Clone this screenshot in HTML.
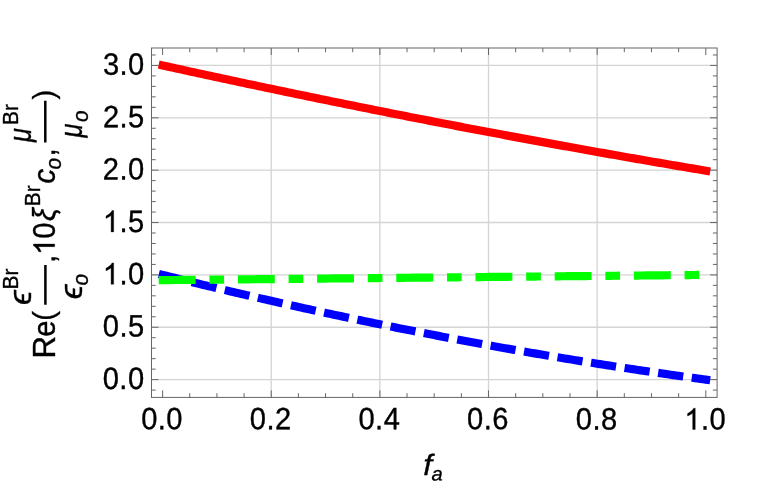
<!DOCTYPE html>
<html><head><meta charset="utf-8"><title>plot</title>
<style>html,body{margin:0;padding:0;background:#fff;}body{width:763px;height:483px;overflow:hidden;font-family:"Liberation Sans",sans-serif;}</style></head>
<body>
<svg width="763" height="483" viewBox="0 0 763 483" style="display:block;will-change:transform">
<rect width="763" height="483" fill="#fff"/>
<path d="M271.24 48.0 V397.4 M379.88 48.0 V397.4 M488.52 48.0 V397.4 M597.16 48.0 V397.4 M151.5 379.60 H717.1 M151.5 327.24 H717.1 M151.5 274.88 H717.1 M151.5 222.52 H717.1 M151.5 170.16 H717.1 M151.5 117.80 H717.1 M151.5 65.44 H717.1" stroke="#d4d4d4" stroke-width="1.3" fill="none"/>
<path d="M158.69 64.58 L162.60 65.44 L165.32 66.04 L168.03 66.63 L170.75 67.23 L173.46 67.83 L176.18 68.42 L178.90 69.02 L181.61 69.61 L184.33 70.20 L187.04 70.79 L189.76 71.39 L192.48 71.98 L195.19 72.57 L197.91 73.16 L200.62 73.74 L203.34 74.33 L206.06 74.92 L208.77 75.51 L211.49 76.09 L214.20 76.68 L216.92 77.26 L219.64 77.84 L222.35 78.43 L225.07 79.01 L227.78 79.59 L230.50 80.17 L233.22 80.75 L235.93 81.33 L238.65 81.91 L241.36 82.49 L244.08 83.06 L246.80 83.64 L249.51 84.21 L252.23 84.79 L254.94 85.36 L257.66 85.94 L260.38 86.51 L263.09 87.08 L265.81 87.65 L268.52 88.22 L271.24 88.79 L273.96 89.36 L276.67 89.93 L279.39 90.50 L282.10 91.06 L284.82 91.63 L287.54 92.20 L290.25 92.76 L292.97 93.32 L295.68 93.89 L298.40 94.45 L301.12 95.01 L303.83 95.57 L306.55 96.13 L309.26 96.69 L311.98 97.25 L314.70 97.81 L317.41 98.37 L320.13 98.93 L322.84 99.48 L325.56 100.04 L328.28 100.59 L330.99 101.15 L333.71 101.70 L336.42 102.25 L339.14 102.80 L341.86 103.35 L344.57 103.90 L347.29 104.45 L350.00 105.00 L352.72 105.55 L355.44 106.10 L358.15 106.65 L360.87 107.19 L363.58 107.74 L366.30 108.28 L369.02 108.82 L371.73 109.37 L374.45 109.91 L377.16 110.45 L379.88 110.99 L382.60 111.53 L385.31 112.07 L388.03 112.61 L390.74 113.15 L393.46 113.69 L396.18 114.22 L398.89 114.76 L401.61 115.30 L404.32 115.83 L407.04 116.36 L409.76 116.90 L412.47 117.43 L415.19 117.96 L417.90 118.49 L420.62 119.02 L423.34 119.55 L426.05 120.08 L428.77 120.61 L431.48 121.13 L434.20 121.66 L436.92 122.19 L439.63 122.71 L442.35 123.24 L445.06 123.76 L447.78 124.28 L450.50 124.81 L453.21 125.33 L455.93 125.85 L458.64 126.37 L461.36 126.89 L464.08 127.41 L466.79 127.92 L469.51 128.44 L472.22 128.96 L474.94 129.47 L477.66 129.99 L480.37 130.50 L483.09 131.02 L485.80 131.53 L488.52 132.04 L491.24 132.55 L493.95 133.06 L496.67 133.57 L499.38 134.08 L502.10 134.59 L504.82 135.10 L507.53 135.61 L510.25 136.11 L512.96 136.62 L515.68 137.12 L518.40 137.63 L521.11 138.13 L523.83 138.63 L526.54 139.14 L529.26 139.64 L531.98 140.14 L534.69 140.64 L537.41 141.14 L540.12 141.64 L542.84 142.13 L545.56 142.63 L548.27 143.13 L550.99 143.62 L553.70 144.12 L556.42 144.61 L559.14 145.11 L561.85 145.60 L564.57 146.09 L567.28 146.58 L570.00 147.07 L572.72 147.56 L575.43 148.05 L578.15 148.54 L580.86 149.03 L583.58 149.51 L586.30 150.00 L589.01 150.49 L591.73 150.97 L594.44 151.46 L597.16 151.94 L599.88 152.42 L602.59 152.90 L605.31 153.38 L608.02 153.87 L610.74 154.34 L613.46 154.82 L616.17 155.30 L618.89 155.78 L621.60 156.26 L624.32 156.73 L627.04 157.21 L629.75 157.68 L632.47 158.16 L635.18 158.63 L637.90 159.10 L640.62 159.57 L643.33 160.05 L646.05 160.52 L648.76 160.99 L651.48 161.46 L654.20 161.92 L656.91 162.39 L659.63 162.86 L662.34 163.32 L665.06 163.79 L667.78 164.25 L670.49 164.72 L673.21 165.18 L675.92 165.64 L678.64 166.11 L681.36 166.57 L684.07 167.03 L686.79 167.49 L689.50 167.95 L692.22 168.40 L694.94 168.86 L697.65 169.32 L700.37 169.77 L703.08 170.23 L705.80 170.68 L710.24 171.43" stroke="#ff0000" stroke-width="8.2" fill="none"/>
<path d="M158.82 273.93 L162.60 274.88 L165.32 275.56 L168.03 276.24 L170.75 276.91 L173.46 277.59 L176.18 278.26 L178.90 278.94 L181.61 279.61 L184.33 280.28 L187.04 280.94 L189.76 281.61 L192.48 282.27 L195.19 282.94 L197.91 283.60 L200.62 284.26 L203.34 284.91 L206.06 285.57 L208.77 286.22 L211.49 286.88 L214.20 287.53 L216.92 288.18 L219.64 288.83 L222.35 289.47 L225.07 290.12 L227.78 290.76 L230.50 291.41 L233.22 292.05 L235.93 292.69 L238.65 293.32 L241.36 293.96 L244.08 294.59 L246.80 295.23 L249.51 295.86 L252.23 296.49 L254.94 297.12 L257.66 297.74 L260.38 298.37 L263.09 298.99 L265.81 299.61 L268.52 300.23 L271.24 300.85 L273.96 301.47 L276.67 302.08 L279.39 302.70 L282.10 303.31 L284.82 303.92 L287.54 304.53 L290.25 305.14 L292.97 305.74 L295.68 306.35 L298.40 306.95 L301.12 307.55 L303.83 308.15 L306.55 308.75 L309.26 309.35 L311.98 309.94 L314.70 310.54 L317.41 311.13 L320.13 311.72 L322.84 312.31 L325.56 312.89 L328.28 313.48 L330.99 314.06 L333.71 314.65 L336.42 315.23 L339.14 315.81 L341.86 316.38 L344.57 316.96 L347.29 317.53 L350.00 318.11 L352.72 318.68 L355.44 319.25 L358.15 319.82 L360.87 320.38 L363.58 320.95 L366.30 321.51 L369.02 322.08 L371.73 322.64 L374.45 323.19 L377.16 323.75 L379.88 324.31 L382.60 324.86 L385.31 325.41 L388.03 325.97 L390.74 326.52 L393.46 327.06 L396.18 327.61 L398.89 328.15 L401.61 328.70 L404.32 329.24 L407.04 329.78 L409.76 330.32 L412.47 330.85 L415.19 331.39 L417.90 331.92 L420.62 332.46 L423.34 332.99 L426.05 333.52 L428.77 334.04 L431.48 334.57 L434.20 335.09 L436.92 335.62 L439.63 336.14 L442.35 336.66 L445.06 337.18 L447.78 337.69 L450.50 338.21 L453.21 338.72 L455.93 339.23 L458.64 339.74 L461.36 340.25 L464.08 340.76 L466.79 341.26 L469.51 341.77 L472.22 342.27 L474.94 342.77 L477.66 343.27 L480.37 343.77 L483.09 344.26 L485.80 344.76 L488.52 345.25 L491.24 345.74 L493.95 346.23 L496.67 346.72 L499.38 347.21 L502.10 347.69 L504.82 348.18 L507.53 348.66 L510.25 349.14 L512.96 349.62 L515.68 350.10 L518.40 350.57 L521.11 351.04 L523.83 351.52 L526.54 351.99 L529.26 352.46 L531.98 352.93 L534.69 353.39 L537.41 353.86 L540.12 354.32 L542.84 354.78 L545.56 355.24 L548.27 355.70 L550.99 356.16 L553.70 356.61 L556.42 357.07 L559.14 357.52 L561.85 357.97 L564.57 358.42 L567.28 358.86 L570.00 359.31 L572.72 359.75 L575.43 360.20 L578.15 360.64 L580.86 361.08 L583.58 361.52 L586.30 361.95 L589.01 362.39 L591.73 362.82 L594.44 363.25 L597.16 363.68 L599.88 364.11 L602.59 364.54 L605.31 364.96 L608.02 365.39 L610.74 365.81 L613.46 366.23 L616.17 366.65 L618.89 367.07 L621.60 367.48 L624.32 367.90 L627.04 368.31 L629.75 368.72 L632.47 369.13 L635.18 369.54 L637.90 369.95 L640.62 370.35 L643.33 370.75 L646.05 371.16 L648.76 371.56 L651.48 371.96 L654.20 372.35 L656.91 372.75 L659.63 373.14 L662.34 373.53 L665.06 373.93 L667.78 374.31 L670.49 374.70 L673.21 375.09 L675.92 375.47 L678.64 375.86 L681.36 376.24 L684.07 376.62 L686.79 377.00 L689.50 377.37 L692.22 377.75 L694.94 378.12 L697.65 378.49 L700.37 378.86 L703.08 379.23 L705.80 379.60 L710.16 380.19" stroke="#0000ff" stroke-width="8.2" fill="none" stroke-dasharray="25.35 8.6"/>
<path d="M158.70 280.15 L162.60 280.12 L165.32 280.09 L168.03 280.06 L170.75 280.04 L173.46 280.01 L176.18 279.99 L178.90 279.96 L181.61 279.93 L184.33 279.91 L187.04 279.88 L189.76 279.85 L192.48 279.83 L195.19 279.80 L197.91 279.78 L200.62 279.75 L203.34 279.72 L206.06 279.70 L208.77 279.67 L211.49 279.64 L214.20 279.62 L216.92 279.59 L219.64 279.57 L222.35 279.54 L225.07 279.51 L227.78 279.49 L230.50 279.46 L233.22 279.44 L235.93 279.41 L238.65 279.38 L241.36 279.36 L244.08 279.33 L246.80 279.30 L249.51 279.28 L252.23 279.25 L254.94 279.23 L257.66 279.20 L260.38 279.17 L263.09 279.15 L265.81 279.12 L268.52 279.09 L271.24 279.07 L273.96 279.04 L276.67 279.02 L279.39 278.99 L282.10 278.96 L284.82 278.94 L287.54 278.91 L290.25 278.89 L292.97 278.86 L295.68 278.83 L298.40 278.81 L301.12 278.78 L303.83 278.75 L306.55 278.73 L309.26 278.70 L311.98 278.68 L314.70 278.65 L317.41 278.62 L320.13 278.60 L322.84 278.57 L325.56 278.55 L328.28 278.52 L330.99 278.49 L333.71 278.47 L336.42 278.44 L339.14 278.41 L341.86 278.39 L344.57 278.36 L347.29 278.34 L350.00 278.31 L352.72 278.28 L355.44 278.26 L358.15 278.23 L360.87 278.20 L363.58 278.18 L366.30 278.15 L369.02 278.13 L371.73 278.10 L374.45 278.07 L377.16 278.05 L379.88 278.02 L382.60 278.00 L385.31 277.97 L388.03 277.94 L390.74 277.92 L393.46 277.89 L396.18 277.86 L398.89 277.84 L401.61 277.81 L404.32 277.79 L407.04 277.76 L409.76 277.73 L412.47 277.71 L415.19 277.68 L417.90 277.66 L420.62 277.63 L423.34 277.60 L426.05 277.58 L428.77 277.55 L431.48 277.52 L434.20 277.50 L436.92 277.47 L439.63 277.45 L442.35 277.42 L445.06 277.39 L447.78 277.37 L450.50 277.34 L453.21 277.31 L455.93 277.29 L458.64 277.26 L461.36 277.24 L464.08 277.21 L466.79 277.18 L469.51 277.16 L472.22 277.13 L474.94 277.11 L477.66 277.08 L480.37 277.05 L483.09 277.03 L485.80 277.00 L488.52 276.97 L491.24 276.95 L493.95 276.92 L496.67 276.90 L499.38 276.87 L502.10 276.84 L504.82 276.82 L507.53 276.79 L510.25 276.76 L512.96 276.74 L515.68 276.71 L518.40 276.69 L521.11 276.66 L523.83 276.63 L526.54 276.61 L529.26 276.58 L531.98 276.56 L534.69 276.53 L537.41 276.50 L540.12 276.48 L542.84 276.45 L545.56 276.42 L548.27 276.40 L550.99 276.37 L553.70 276.35 L556.42 276.32 L559.14 276.29 L561.85 276.27 L564.57 276.24 L567.28 276.22 L570.00 276.19 L572.72 276.16 L575.43 276.14 L578.15 276.11 L580.86 276.08 L583.58 276.06 L586.30 276.03 L589.01 276.01 L591.73 275.98 L594.44 275.95 L597.16 275.93 L599.88 275.90 L602.59 275.87 L605.31 275.85 L608.02 275.82 L610.74 275.80 L613.46 275.77 L616.17 275.74 L618.89 275.72 L621.60 275.69 L624.32 275.67 L627.04 275.64 L629.75 275.61 L632.47 275.59 L635.18 275.56 L637.90 275.53 L640.62 275.51 L643.33 275.48 L646.05 275.46 L648.76 275.43 L651.48 275.40 L654.20 275.38 L656.91 275.35 L659.63 275.33 L662.34 275.30 L665.06 275.27 L667.78 275.25 L670.49 275.22 L673.21 275.19 L675.92 275.17 L678.64 275.14 L681.36 275.12 L684.07 275.09 L686.79 275.06 L689.50 275.04 L692.22 275.01 L694.94 274.98 L697.65 274.96 L700.37 274.93 L703.08 274.91 L705.80 274.88 L709.70 274.84" stroke="#00ff00" stroke-width="8.2" fill="none" stroke-dasharray="36.9 13.8 14.7 13.8"/>
<path d="M162.60 397.4 v-7 M162.60 48.0 v7 M189.76 397.4 v-4.2 M189.76 48.0 v4.2 M216.92 397.4 v-4.2 M216.92 48.0 v4.2 M244.08 397.4 v-4.2 M244.08 48.0 v4.2 M271.24 397.4 v-7 M271.24 48.0 v7 M298.40 397.4 v-4.2 M298.40 48.0 v4.2 M325.56 397.4 v-4.2 M325.56 48.0 v4.2 M352.72 397.4 v-4.2 M352.72 48.0 v4.2 M379.88 397.4 v-7 M379.88 48.0 v7 M407.04 397.4 v-4.2 M407.04 48.0 v4.2 M434.20 397.4 v-4.2 M434.20 48.0 v4.2 M461.36 397.4 v-4.2 M461.36 48.0 v4.2 M488.52 397.4 v-7 M488.52 48.0 v7 M515.68 397.4 v-4.2 M515.68 48.0 v4.2 M542.84 397.4 v-4.2 M542.84 48.0 v4.2 M570.00 397.4 v-4.2 M570.00 48.0 v4.2 M597.16 397.4 v-7 M597.16 48.0 v7 M624.32 397.4 v-4.2 M624.32 48.0 v4.2 M651.48 397.4 v-4.2 M651.48 48.0 v4.2 M678.64 397.4 v-4.2 M678.64 48.0 v4.2 M705.80 397.4 v-7 M705.80 48.0 v7 M151.5 390.07 h4.2 M717.1 390.07 h-4.2 M151.5 379.60 h7 M717.1 379.60 h-7 M151.5 369.13 h4.2 M717.1 369.13 h-4.2 M151.5 358.66 h4.2 M717.1 358.66 h-4.2 M151.5 348.18 h4.2 M717.1 348.18 h-4.2 M151.5 337.71 h4.2 M717.1 337.71 h-4.2 M151.5 327.24 h7 M717.1 327.24 h-7 M151.5 316.77 h4.2 M717.1 316.77 h-4.2 M151.5 306.30 h4.2 M717.1 306.30 h-4.2 M151.5 295.82 h4.2 M717.1 295.82 h-4.2 M151.5 285.35 h4.2 M717.1 285.35 h-4.2 M151.5 274.88 h7 M717.1 274.88 h-7 M151.5 264.41 h4.2 M717.1 264.41 h-4.2 M151.5 253.94 h4.2 M717.1 253.94 h-4.2 M151.5 243.46 h4.2 M717.1 243.46 h-4.2 M151.5 232.99 h4.2 M717.1 232.99 h-4.2 M151.5 222.52 h7 M717.1 222.52 h-7 M151.5 212.05 h4.2 M717.1 212.05 h-4.2 M151.5 201.58 h4.2 M717.1 201.58 h-4.2 M151.5 191.10 h4.2 M717.1 191.10 h-4.2 M151.5 180.63 h4.2 M717.1 180.63 h-4.2 M151.5 170.16 h7 M717.1 170.16 h-7 M151.5 159.69 h4.2 M717.1 159.69 h-4.2 M151.5 149.22 h4.2 M717.1 149.22 h-4.2 M151.5 138.74 h4.2 M717.1 138.74 h-4.2 M151.5 128.27 h4.2 M717.1 128.27 h-4.2 M151.5 117.80 h7 M717.1 117.80 h-7 M151.5 107.33 h4.2 M717.1 107.33 h-4.2 M151.5 96.86 h4.2 M717.1 96.86 h-4.2 M151.5 86.38 h4.2 M717.1 86.38 h-4.2 M151.5 75.91 h4.2 M717.1 75.91 h-4.2 M151.5 65.44 h7 M717.1 65.44 h-7 M151.5 54.97 h4.2 M717.1 54.97 h-4.2" stroke="#666666" stroke-width="1" fill="none"/>
<rect x="151.5" y="48.0" width="565.6" height="349.4" fill="none" stroke="#666666" stroke-width="1"/>
<g font-family="Liberation Sans, sans-serif" font-size="30" fill="#000" stroke="#000" stroke-width="0.35" transform="rotate(0.03)">
<text transform="translate(141.42 429.10) scale(0.97 1.03)" letter-spacing="0.464">0.0</text>
<text transform="translate(250.06 429.10) scale(0.97 1.03)" letter-spacing="0.464">0.2</text>
<text transform="translate(358.70 429.10) scale(0.97 1.03)" letter-spacing="0.464">0.4</text>
<text transform="translate(467.34 429.10) scale(0.97 1.03)" letter-spacing="0.464">0.6</text>
<text transform="translate(575.98 429.10) scale(0.97 1.03)" letter-spacing="0.464">0.8</text>
<path d="M695.46 429.10H692.91V412.53Q691.98 413.44 690.48 414.33Q688.99 415.22 687.79 415.67V413.15Q689.94 412.13 691.54 410.68Q693.15 409.21 693.82 407.84H695.46Z"/><text transform="translate(701.26 429.10) scale(0.97 1.03)" letter-spacing="0.464">.0</text>
<text transform="translate(102.95 388.90) scale(0.97 1.03)" letter-spacing="0.464">0.0</text>
<text transform="translate(102.95 336.54) scale(0.97 1.03)" letter-spacing="0.464">0.5</text>
<path d="M113.79 284.18H111.23V267.61Q110.31 268.52 108.81 269.41Q107.31 270.30 106.12 270.75V268.23Q108.26 267.21 109.87 265.76Q111.47 264.29 112.14 262.92H113.79Z"/><text transform="translate(119.58 284.18) scale(0.97 1.03)" letter-spacing="0.464">.0</text>
<path d="M113.79 231.82H111.23V215.25Q110.31 216.16 108.81 217.05Q107.31 217.94 106.12 218.39V215.87Q108.26 214.85 109.87 213.40Q111.47 211.93 112.14 210.56H113.79Z"/><text transform="translate(119.58 231.82) scale(0.97 1.03)" letter-spacing="0.464">.5</text>
<text transform="translate(102.95 179.46) scale(0.97 1.03)" letter-spacing="0.464">2.0</text>
<text transform="translate(102.95 127.10) scale(0.97 1.03)" letter-spacing="0.464">2.5</text>
<text transform="translate(102.95 74.74) scale(0.97 1.03)" letter-spacing="0.464">3.0</text>
</g>
<g font-family="Liberation Sans, sans-serif" fill="#000" stroke="#000" stroke-width="0.35">
<g transform="rotate(0.03)">
<text transform="translate(423.5 474.7) scale(1.06 0.98)" font-size="30" font-style="italic">f</text>
<text transform="translate(431.7 480.2) scale(0.94 0.91)" font-size="21.5" font-style="italic">a</text>
</g>
<g transform="translate(0 483) rotate(-90)">
<text transform="translate(124.5 54.7) scale(1.04 1.03)" font-size="30">R</text>
<text transform="translate(146.25 54.7) scale(0.97 1.03)" font-size="30">e</text>
<text transform="translate(162.2 53.95) scale(0.97 0.97)" font-size="30">(</text>
<path d="M178.3 45.4 H217.9 M340.4 45.3 H382.3" stroke-width="2.5" fill="none"/>
<text transform="translate(178.0 30.8) scale(1.11 1.03)" font-size="30" font-style="italic">ϵ</text>
<text transform="translate(193.5 18.3) scale(0.97 1.03)" font-size="21.5">Br</text>
<text transform="translate(183.75 82.0) scale(1.11 1.03)" font-size="30" font-style="italic">ϵ</text>
<text transform="translate(197.5 87.5) scale(0.97 1.03)" font-size="21.5" font-style="italic">o</text>
<text transform="translate(220.0 54.7) scale(0.97 1.03)" font-size="30">,</text>
<path d="M238.93 54.70H236.37V38.13Q235.45 39.04 233.95 39.93Q232.45 40.82 231.25 41.27V38.75Q233.40 37.73 235.00 36.28Q236.61 34.81 237.28 33.44H238.93Z"/>
<text transform="translate(244.2689453125 54.7) scale(0.97 1.03)" font-size="30">0</text>
<text transform="translate(261.9 54.7) scale(0.97 1.03)" font-size="30" font-style="italic">ξ</text>
<text transform="translate(276.8 40.0) scale(0.97 1.03)" font-size="21.5">Br</text>
<text transform="translate(299.5 55.3) scale(0.97 1.03)" font-size="30" font-style="italic">c</text>
<text transform="translate(313.5 60.6) scale(0.97 1.03)" font-size="21.5" font-style="italic">o</text>
<text transform="translate(326.4 54.7) scale(0.97 1.03)" font-size="30">,</text>
<text transform="translate(340.9 30.8) scale(0.84 1.03)" font-size="30" font-style="italic">μ</text>
<text transform="translate(358.1 17.8) scale(0.97 1.03)" font-size="21.5">Br</text>
<text transform="translate(345.5 81.7) scale(0.84 1.03)" font-size="30" font-style="italic">μ</text>
<text transform="translate(361.0 88.3) scale(0.97 1.03)" font-size="21.5" font-style="italic">o</text>
<text transform="translate(383.5 53.95) scale(0.97 0.97)" font-size="30">)</text>
</g>
</g>
</svg>
</body></html>
